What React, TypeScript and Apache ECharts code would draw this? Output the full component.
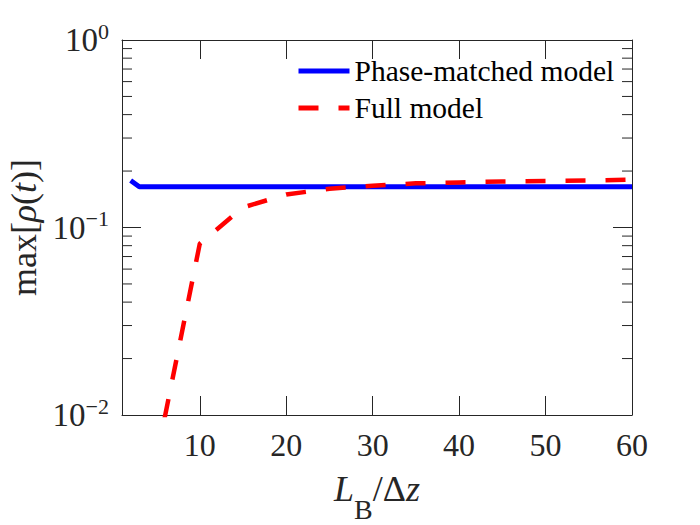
import React, { useEffect, useRef } from "react";
import * as echarts from "echarts";

const xMin = 1;
const xMax = 60;
const yMin = 0.01;
const yMax = 1;

const phaseMatched: [number, number][] = [
  [2, 0.178], [3, 0.165], [5, 0.165], [10, 0.165], [15, 0.165], [20, 0.165],
  [25, 0.165], [30, 0.165], [35, 0.165], [40, 0.165], [45, 0.165], [50, 0.165],
  [55, 0.165], [60, 0.165],
];

const fullModel: [number, number][] = [
  [5, 0.0059], [10, 0.082], [15, 0.128], [20, 0.15], [25, 0.161], [30, 0.167],
  [35, 0.172], [40, 0.174], [45, 0.176], [50, 0.177], [55, 0.178], [60, 0.18],
];

const minorTickValues = [
  0.02, 0.03, 0.04, 0.05, 0.06, 0.07, 0.08, 0.09,
  0.2, 0.3, 0.4, 0.5, 0.6, 0.7, 0.8, 0.9,
];

const FONT = "'Liberation Serif', 'Times New Roman', serif";
const AX = "#262626";

export default function App() {
  const ref = useRef<HTMLDivElement>(null);
  useEffect(() => {
    if (!ref.current) return;
    const chart = echarts.init(ref.current, null, { renderer: "svg" });
    const axisLineStyle = { color: AX, width: 1 };
    const yLabelFormatter = (v: number) => {
      const e = Math.round(Math.log10(v));
      const s = e < 0 ? "\u2212" + -e : String(e);
      return "{b|10}{s|" + s + "}";
    };
    chart.setOption({
      animation: false,
      backgroundColor: "#ffffff",
      textStyle: { fontFamily: FONT },
      grid: {
        left: 122,
        top: 40,
        width: 510,
        height: 375,
        containLabel: false,
        outerBoundsMode: "none",
      },
      legend: {
        orient: "vertical",
        left: 296,
        top: 56,
        padding: 0,
        itemWidth: 51,
        itemHeight: 14,
        itemGap: 7,
        data: ["Phase-matched model", "Full model"],
        itemStyle: { opacity: 0, borderWidth: 0 },
        lineStyle: { width: 5 },
        textStyle: { fontFamily: FONT, fontSize: 29.5, lineHeight: 30, color: "#000" },
      },
      xAxis: [
        {
          type: "value",
          min: xMin,
          max: xMax,
          splitNumber: 6,
          position: "bottom",
          axisLine: { show: true, lineStyle: axisLineStyle },
          axisTick: { show: true, inside: true, length: 19, lineStyle: axisLineStyle },
          splitLine: { show: false },
          axisLabel: {
            show: true,
            showMinLabel: false,
            fontFamily: FONT,
            fontSize: 32,
            color: AX,
            margin: 14,
            formatter: (v: number) => (v % 10 === 0 ? String(v) : ""),
          },
          name: "{i|L}{sub|B}{n|/\u0394}{i|z}",
          nameLocation: "middle",
          nameGap: 64,
          nameTextStyle: {
            rich: {
              i: { fontFamily: FONT, fontStyle: "italic", fontSize: 36, lineHeight: 36, padding: [0, 0, 17, 0], color: AX },
              n: { fontFamily: FONT, fontSize: 36, lineHeight: 36, padding: [0, 0, 17, 0], color: AX },
              sub: { fontFamily: FONT, fontSize: 28, lineHeight: 28, padding: [25, 0, 0, 0], color: AX },
            },
          },
        },
        {
          type: "value",
          min: xMin,
          max: xMax,
          splitNumber: 6,
          position: "top",
          axisLine: { show: true, lineStyle: axisLineStyle },
          axisTick: { show: true, inside: true, length: 19, lineStyle: axisLineStyle },
          splitLine: { show: false },
          axisLabel: { show: false },
        },
      ],
      yAxis: [
        {
          type: "log",
          logBase: 10,
          min: yMin,
          max: yMax,
          position: "left",
          axisLine: { show: true, lineStyle: axisLineStyle },
          axisTick: { show: true, inside: true, length: 19, lineStyle: axisLineStyle },
          splitLine: { show: false },
          axisLabel: {
            show: true,
            margin: 13,
            formatter: yLabelFormatter,
            rich: {
              b: { fontFamily: FONT, fontSize: 33, lineHeight: 33, color: AX },
              s: { fontFamily: FONT, fontSize: 22, lineHeight: 22, padding: [0, 0, 18, 0], color: AX },
            },
          },
          name: "{n|max[}{i|\u03c1}{n|(}{i|t}{n|)]}",
          nameLocation: "middle",
          nameGap: 80,
          nameRotate: 90,
          nameTextStyle: {
            rich: {
              n: { fontFamily: FONT, fontSize: 36, color: AX },
              i: { fontFamily: FONT, fontSize: 36, fontStyle: "italic", color: AX },
            },
          },
        },
        {
          type: "log",
          logBase: 10,
          min: yMin,
          max: yMax,
          position: "right",
          axisLine: { show: true, lineStyle: axisLineStyle },
          axisTick: { show: true, inside: true, length: 19, lineStyle: axisLineStyle },
          splitLine: { show: false },
          axisLabel: { show: false },
        },
      ],
      series: [
        {
          name: "Phase-matched model",
          type: "line",
          data: phaseMatched,
          symbol: "none",
          clip: true,
          lineStyle: { color: "#0000ff", width: 5 },
          itemStyle: { color: "#0000ff" },
          z: 3,
        },
        {
          name: "Full model",
          type: "line",
          data: fullModel,
          symbol: "none",
          clip: true,
          lineStyle: { color: "#ff0000", width: 4.5, type: [20, 20] },
          itemStyle: { color: "#ff0000" },
          z: 4,
        },
        {
          name: "minorTicks",
          type: "custom",
          data: minorTickValues.map((v) => [xMin, v]),
          silent: true,
          clip: false,
          renderItem: (params: any, api: any) => {
            const v = api.value(1);
            const l = api.coord([xMin, v]);
            const r = api.coord([xMax, v]);
            const style = { stroke: AX, lineWidth: 1 };
            return {
              type: "group",
              children: [
                { type: "line", shape: { x1: l[0], y1: l[1], x2: l[0] + 10, y2: l[1] }, style },
                { type: "line", shape: { x1: r[0] - 10, y1: r[1], x2: r[0], y2: r[1] }, style },
              ],
            };
          },
          z: 5,
        },
      ],
    });
    return () => chart.dispose();
  }, []);
  return (
    <div
      ref={ref}
      style={{ position: "absolute", left: 0, top: 0, width: 700, height: 525, background: "#fff" }}
    />
  );
}
